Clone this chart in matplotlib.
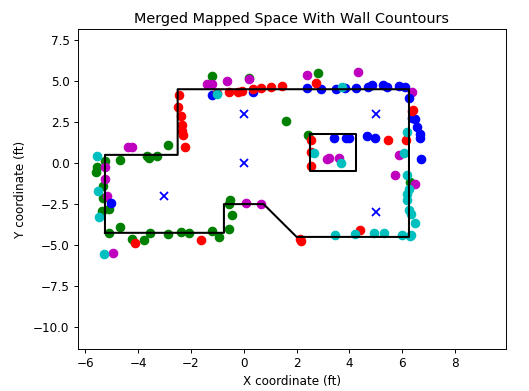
#!/usr/bin/env python3
"""
Merged mapped space scatter with wall contours.
"""

import matplotlib

matplotlib.use("Agg")
import matplotlib.pyplot as plt

green_x = [-5.58, -5.33, -5.34, -5.35, -5.08, -5.08, -4.70, -4.24, -3.79, -3.56, -2.88, -2.39, -2.08,
           -1.21, -0.92, -0.57, -0.43, -0.53, -0.54, -1.19, -2.88, -3.67, -3.60, -3.30, -4.70, -5.25,
           -5.54, 2.79, 1.59, 2.42, 6.29, 0.19]
green_y = [-0.53, -1.40, -2.11, -2.91, -2.80, -4.27, -3.90, -4.63, -4.70, -4.27, -4.33, -4.21, -4.27,
           -4.15, -4.53, -4.00, -3.17, -2.26, -2.50, 5.30, 1.10, 0.43, 0.30, 0.43, 0.20, 0.14,
           -0.24, 5.51, 2.56, 1.73, -1.16, 5.18]

magenta_x = [-5.23, -5.16, -4.95, -5.23, -4.38, -4.22, -1.38, -1.22, -0.63, 0.20, 2.40, 4.31, 6.35,
             5.88, 3.16, 3.22, 3.59, 5.71, 6.49, 0.09, 0.67]
magenta_y = [-0.98, -2.03, -5.45, -0.26, 0.98, 0.98, 4.82, 4.82, 4.98, 5.10, 5.35, 5.57, 4.35,
             0.51, 0.26, 0.28, 0.30, -0.71, -1.28, -2.42, -2.52]

blue_x = [-5.03, -1.22, 0.35, 2.39, 2.94, 3.48, 3.83, 4.24, 4.70, 4.87, 5.25, 5.43, 5.87, 6.11, 6.26,
          6.35, 6.48, 6.57, 6.67, 6.67, 3.42, 3.85, 3.99, 4.66, 4.95, 6.72]
blue_y = [-2.42, 4.13, 4.33, 4.55, 4.49, 4.49, 4.55, 4.55, 4.65, 4.74, 4.74, 4.62, 4.68, 4.62, 3.94,
          2.76, 2.66, 2.20, 1.75, 1.51, 1.54, 1.54, 1.54, 1.63, 1.51, 0.24]

red_x = [-2.45, -2.47, -2.39, -2.35, -2.34, -2.30, -2.23, -1.03, -0.56, -0.23, -0.05, 0.35, 0.67, 1.03,
         1.43, 2.75, 2.54, 2.54, 2.56, 5.45, 6.14, 6.41, 6.36, -4.10, -1.62, 4.39, 2.13, 2.15]
red_y = [4.16, 3.40, 2.87, 2.34, 1.93, 1.69, 0.98, 4.27, 4.31, 4.35, 4.39, 4.49, 4.57, 4.65,
         4.71, 4.88, 1.40, 0.65, -0.18, 1.40, 1.40, 3.23, 3.20, -4.86, -4.68, -4.10, -4.62, -4.72]

cyan_x = [-5.52, -5.48, -5.28, -5.54, -1.02, 3.72, 6.16, 2.66, 3.69, 6.06, 6.16, 6.24, 6.16, 6.16,
          6.24, 6.34, 6.48, 6.34, 6.29, 5.98, 5.31, 4.94, 4.20, 3.46]
cyan_y = [-1.71, -3.31, -5.57, 0.45, 4.19, 4.65, 1.89, 0.63, -0.02, 0.63, -0.75, -1.59, -1.89, -2.26,
          -2.87, -3.13, -3.68, -4.39, -4.43, -4.39, -4.25, -4.25, -4.33, -4.39]

# scan positions
scan_x = [-3, 0, 0, 5, 5]
scan_y = [-2, 0, 3, 3, -3]

wall_x = [-5.25, -5.25, -2.5, -2.5, 6.25, 6.25, 2, 0.75, -0.75, -0.75, -5.25]
wall_y = [-4.25, 0.5, 0.5, 4.5, 4.5, -4.5, -4.5, -2.5, -2.5, -4.25, -4.25]

box_x = [2.5, 4.25, 4.25, 2.5, 2.5]
box_y = [1.75, 1.75, -0.5, -0.5, 1.75]

DPI = 86.5
fig = plt.figure(figsize=(529 / DPI, 391 / DPI), dpi=DPI)
ax = fig.add_axes([78 / 529, 1 - 349 / 391, 428 / 529, 320 / 391])

for xs, ys, color in [
    (green_x, green_y, "g"),
    (magenta_x, magenta_y, "m"),
    (blue_x, blue_y, "b"),
    (red_x, red_y, "r"),
    (cyan_x, cyan_y, "c"),
]:
    ax.plot(xs, ys, "o", color=color, markersize=7.0, linestyle="none")

ax.plot(scan_x, scan_y, "x", color="b", markersize=6, markeredgewidth=1.5, linestyle="none")
ax.plot(wall_x, wall_y, color="k", linewidth=1.7)
ax.plot(box_x, box_y, color="k", linewidth=1.7)

ax.set_xlim(-6.27, 9.92)
ax.set_ylim(-11.33, 8.17)
ax.set_xticks([-6, -4, -2, 0, 2, 4, 6, 8])
ax.set_title("Merged Mapped Space With Wall Countours", pad=5)
ax.set_xlabel("X coordinate (ft)")
ax.set_ylabel("Y coordinate (ft)", labelpad=5)

fig.savefig("out.png", dpi=DPI)
